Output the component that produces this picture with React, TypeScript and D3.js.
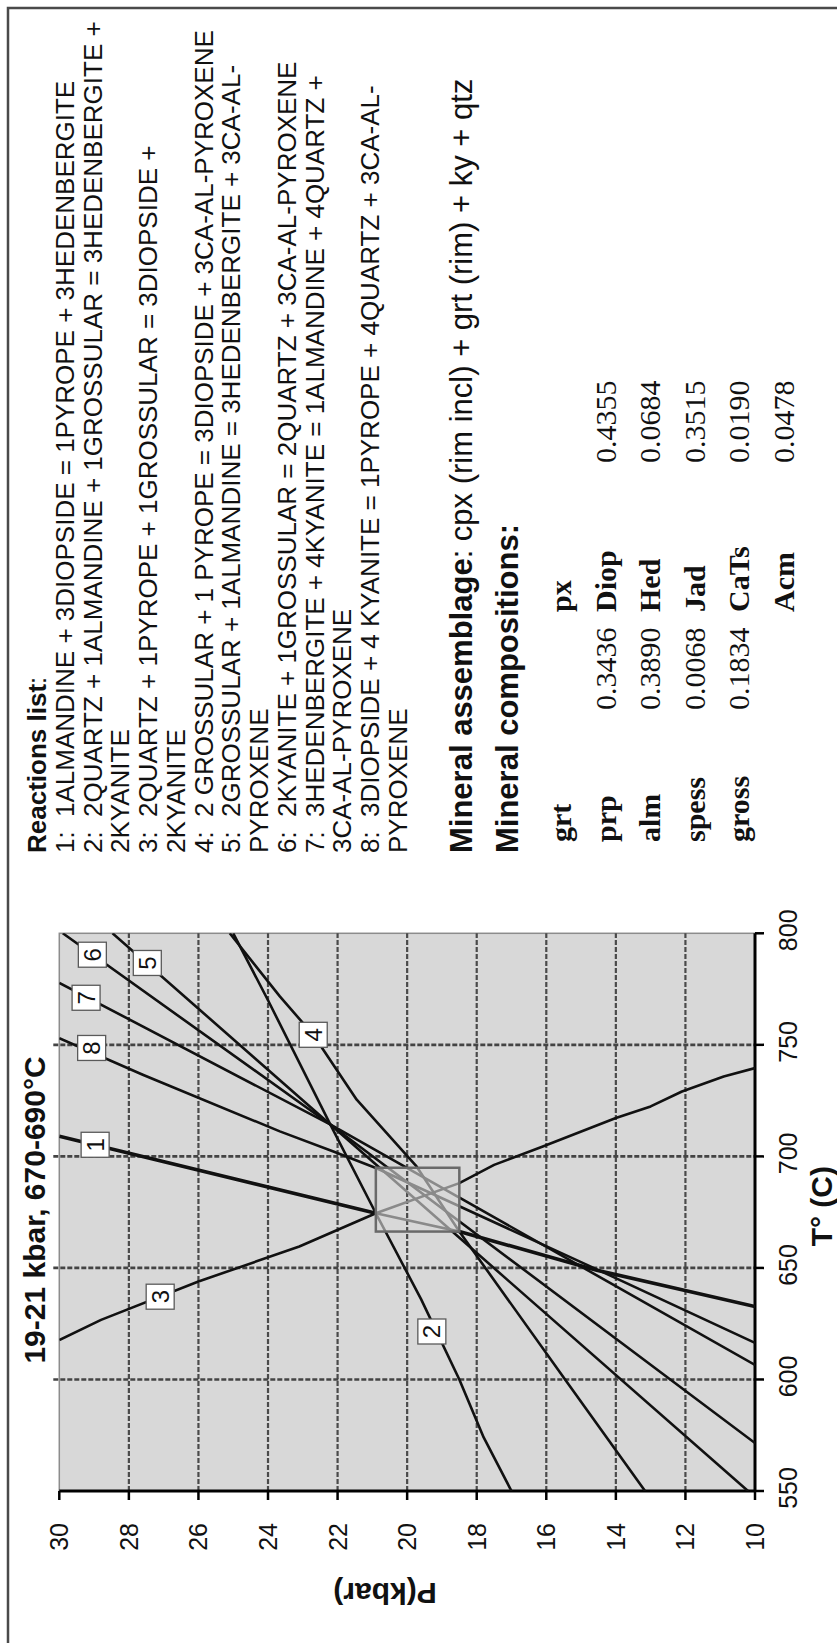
import * as d3 from 'd3';

// figure is drawn in its own landscape frame (1643 x 837) and turned -90deg onto the page
const PAGE_W = 837;
const PAGE_H = 1643;

const tempTicks = [550, 600, 650, 700, 750, 800];
const pressTicks = [10, 12, 14, 16, 18, 20, 22, 24, 26, 28, 30];

// reaction curves, [T (C), P (kbar)]
const reaction1 = [[709, 30], [674.5, 20.9], [666.3, 18.5], [649, 14.55], [632.7, 10]];
const reaction2 = [[550, 17.0], [574, 17.8], [600, 18.5], [636, 19.6], [674.5, 20.9], [714, 22.2], [770, 24.0], [800, 25.0]];
const reaction3 = [[617.7, 30], [626.7, 28.8], [643.9, 26], [659.6, 23.1], [674.5, 20.9], [688, 18.5], [696.2, 17.5], [704.4, 16.1], [717.2, 14], [722.4, 13], [729.1, 12.1], [735.8, 10.9], [739.6, 10]];
const reaction4 = [[800, 25.1], [771.7, 23.66], [754.5, 22.7], [725.4, 21.45], [695.5, 19.73], [666.3, 18.5], [600, 15.46], [550, 13.16]];
const reaction5 = [[800, 28.47], [714.2, 22.2], [550, 10.2]];
const reaction6 = [[800, 29.9], [714.2, 22.2], [571.5, 10]];
const reaction7 = [[777.8, 30], [714.2, 22.2], [606.5, 10]];
const reaction8 = [[753, 30], [736.6, 27.6], [711.2, 23.66], [702.2, 22.12], [694.7, 20.88], [649, 14.5], [616.4, 10]];

const labelIds = ['1', '2', '3', '4', '5', '6', '7', '8'];
const labelT = [705.2, 621.5, 637.1, 754.5, 786.7, 790.4, 771.1, 748.6];
const labelP = [28.97, 19.29, 27.1, 22.7, 27.47, 29.05, 29.23, 29.07];

// box around the intersections
const boxT = [666.3, 694.9];
const boxP = [18.5, 20.9];

const reactionNums = ['1:', '2:', '', '3:', '', '4:', '5:', '', '6:', '7:', '', '8:', ''];
const reactionText = [
  '1ALMANDINE + 3DIOPSIDE = 1PYROPE + 3HEDENBERGITE',
  '2QUARTZ + 1ALMANDINE + 1GROSSULAR = 3HEDENBERGITE +',
  '2KYANITE',
  '2QUARTZ + 1PYROPE + 1GROSSULAR = 3DIOPSIDE +',
  '2KYANITE',
  '2 GROSSULAR + 1 PYROPE = 3DIOPSIDE + 3CA-AL-PYROXENE',
  '2GROSSULAR + 1ALMANDINE = 3HEDENBERGITE + 3CA-AL-',
  'PYROXENE',
  '2KYANITE + 1GROSSULAR = 2QUARTZ + 3CA-AL-PYROXENE',
  '3HEDENBERGITE + 4KYANITE = 1ALMANDINE + 4QUARTZ +',
  '3CA-AL-PYROXENE',
  '3DIOPSIDE + 4 KYANITE = 1PYROPE + 4QUARTZ + 3CA-AL-',
  'PYROXENE',
];

const grtNames = ['prp', 'alm', 'spess', 'gross'];
const grtValues = ['0.3436', '0.3890', '0.0068', '0.1834'];
const pxNames = ['Diop', 'Hed', 'Jad', 'CaTs', 'Acm'];
const pxValues = ['0.4355', '0.0684', '0.3515', '0.0190', '0.0478'];

const SANS = '"Liberation Sans", Arial, sans-serif';
const SERIF = '"Liberation Serif", "Times New Roman", serif';

export default function App() {
  const x = d3.scaleLinear().domain([550, 800]).range([152, 709.7]);
  const y = d3.scaleLinear().domain([10, 30]).range([755, 59.3]);

  const line = d3.line<number[]>().x(d => x(d[0])).y(d => y(d[1]));
  const reactions = [reaction1, reaction2, reaction3, reaction4, reaction5, reaction6, reaction7, reaction8];

  const x0 = x(550), x1 = x(800), y0 = y(30), y1 = y(10);
  const bx0 = x(boxT[0]), bx1 = x(boxT[1]), by0 = y(boxP[1]), by1 = y(boxP[0]);

  const rowBase = [571, 616, 660, 705, 749, 794];

  return (
    <svg width={PAGE_W} height={PAGE_H} style={{ position: 'absolute', left: 0, top: 0 }}>
      <rect width={PAGE_W} height={PAGE_H} fill="#fff" />
      <defs>
        <clipPath id="outsideBox">
          <path
            clipRule="evenodd"
            d={`M${x0},${y0}H${x1}V${y1}H${x0}Z M${bx0},${by0}H${bx1}V${by1}H${bx0}Z`}
          />
        </clipPath>
        <clipPath id="insideBox">
          <rect x={bx0} y={by0} width={bx1 - bx0} height={by1 - by0} />
        </clipPath>
      </defs>

      <g transform={`translate(0,${PAGE_H}) rotate(-90)`}>
        {/* plot area */}
        <rect x={x0} y={y0} width={x1 - x0} height={y1 - y0} fill="#d8d8d8" stroke="#8c8c8c" strokeWidth={1.5} />

        {pressTicks.filter(p => p > 10 && p < 30).map(p => (
          <line key={'gp' + p} x1={x0} x2={x1} y1={y(p)} y2={y(p)}
            stroke="#4a4a4a" strokeWidth={2.2} strokeDasharray="5,2" />
        ))}
        {tempTicks.filter(t => t > 550 && t < 800).map(t => (
          <line key={'gt' + t} x1={x(t)} x2={x(t)} y1={y0 - 6} y2={y1}
            stroke="#444" strokeWidth={2.6} strokeDasharray="5,2" />
        ))}

        {/* axes */}
        <line x1={x0} x2={x0} y1={y0} y2={y1} stroke="#000" strokeWidth={3} />
        <line x1={x0} x2={x1} y1={y1} y2={y1} stroke="#000" strokeWidth={3} />
        {pressTicks.map(p => (
          <g key={'tp' + p}>
            <line x1={x0 - 9} x2={x0} y1={y(p)} y2={y(p)} stroke="#000" strokeWidth={2.5} />
            <text x={x0 - 32} y={y(p)} dy="0.36em" textAnchor="end"
              fontFamily={SANS} fontSize={25} fill="#111">{p}</text>
          </g>
        ))}
        {tempTicks.map(t => (
          <g key={'tt' + t}>
            <line x1={x(t)} x2={x(t)} y1={y1} y2={y1 + 9} stroke="#000" strokeWidth={2.5} />
            <text x={x(t) + 3} y={797} textAnchor="middle"
              fontFamily={SANS} fontSize={25} fill="#111">{t}</text>
          </g>
        ))}

        {/* reaction curves */}
        <g clipPath="url(#outsideBox)">
          {reactions.map((r, i) => (
            <path key={'r' + i} d={line(r) || ''} fill="none" stroke="#111"
              strokeWidth={i === 0 ? 3.6 : 2.6} strokeLinejoin="round" />
          ))}
        </g>
        <g clipPath="url(#insideBox)">
          {reactions.map((r, i) => (
            <path key={'rb' + i} d={line(r) || ''} fill="none" stroke="#8a8a8a"
              strokeWidth={2.6} strokeLinejoin="round" />
          ))}
        </g>
        <rect x={bx0} y={by0} width={bx1 - bx0} height={by1 - by0}
          fill="none" stroke="#6a6a6a" strokeWidth={2.5} />

        {labelIds.map((id, i) => (
          <g key={'lb' + id} transform={`translate(${x(labelT[i])},${y(labelP[i])})`}>
            <rect x={-12.5} y={-14} width={25} height={28} fill="#fff" stroke="#5a5a5a" strokeWidth={1.3} />
            <text y={0} dy="0.36em" textAnchor="middle" fontFamily={SANS} fontSize={24} fill="#111">{id}</text>
          </g>
        ))}

        {/* titles */}
        <text x={433} y={45} textAnchor="middle" fontFamily={SANS} fontWeight="bold" fontSize={30} fill="#111">
          19-21 kbar, 670-690°C
        </text>
        <text x={(x0 + x1) / 2 + 6} y={832} textAnchor="middle" fontFamily={SANS} fontWeight="bold" fontSize={30} fill="#111">
          T° (C)
        </text>
        <text transform={`translate(60,385) rotate(-90)`} textAnchor="middle" fontFamily={SANS}
          fontWeight="bold" fontSize={30} fill="#111">P(kbar)</text>

        {/* reactions list */}
        <text x={790} y={46} fontFamily={SANS} fontSize={26} fill="#111">
          <tspan fontWeight="bold">Reactions list</tspan>:
        </text>
        {reactionText.map((s, i) => (
          <text key={'rt' + i} y={46 + 27.75 * (i + 1)} fontFamily={SANS} fontSize={26} fill="#111">
            {reactionNums[i] ? <tspan x={790}>{reactionNums[i]}</tspan> : null}
            <tspan x={reactionNums[i] ? 826 : 790}>{s}</tspan>
          </text>
        ))}

        <text x={790} y={472} fontFamily={SANS} fontSize={31} fill="#111">
          <tspan fontWeight="bold">Mineral assemblage</tspan>: cpx (rim incl) + grt (rim) + ky + qtz
        </text>
        <text x={790} y={518} fontFamily={SANS} fontSize={31} fontWeight="bold" fill="#111">
          Mineral compositions:
        </text>

        {/* composition table */}
        <g fontFamily={SERIF} fontSize={30} fill="#111">
          <text x={801} y={rowBase[0]} fontWeight="bold">grt</text>
          <text x={1031} y={rowBase[0]} fontWeight="bold">px</text>
          {grtNames.map((n, i) => (
            <text key={'gn' + n} x={801} y={rowBase[i + 1]} fontWeight="bold">{n}</text>
          ))}
          {grtValues.map((v, i) => (
            <text key={'gv' + i} x={933} y={rowBase[i + 1]}>{v}</text>
          ))}
          {pxNames.map((n, i) => (
            <text key={'pn' + n} x={1031} y={rowBase[i + 1]} fontWeight="bold">{n}</text>
          ))}
          {pxValues.map((v, i) => (
            <text key={'pv' + i} x={1180} y={rowBase[i + 1]}>{v}</text>
          ))}
        </g>
      </g>

      {/* frame */}
      <path d={`M8,${PAGE_H} V8 H${PAGE_W}`} fill="none" stroke="#4a4a4a" strokeWidth={2.5} />
    </svg>
  );
}
